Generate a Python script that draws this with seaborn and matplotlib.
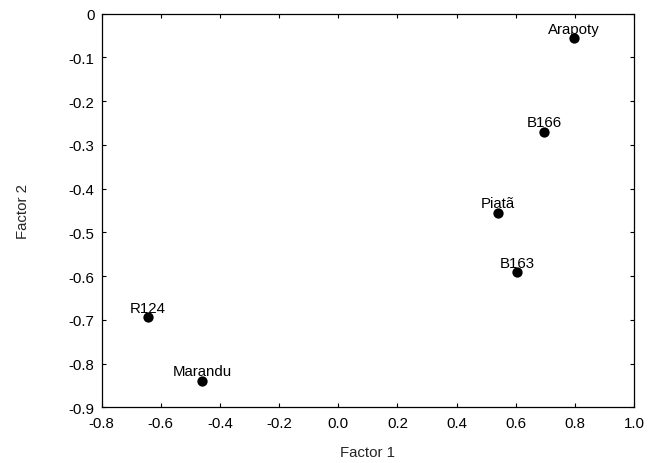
import matplotlib
matplotlib.use("Agg")
import matplotlib.pyplot as plt
import seaborn as sns
import pandas as pd

names = ["Arapoty", "B166", "Piatã", "B163", "R124", "Marandu"]
factor1 = [0.796, 0.696, 0.540, 0.603, -0.644, -0.460]
factor2 = [-0.056, -0.270, -0.455, -0.591, -0.694, -0.839]
xticks = [-0.8, -0.6, -0.4, -0.2, 0.0, 0.2, 0.4, 0.6, 0.8, 1.0]
yticks = [0, -0.1, -0.2, -0.3, -0.4, -0.5, -0.6, -0.7, -0.8, -0.9]
ytick_labels = ["0", "-0.1", "-0.2", "-0.3", "-0.4", "-0.5", "-0.6", "-0.7", "-0.8", "-0.9"]

df = pd.DataFrame({"name": names, "Factor 1": factor1, "Factor 2": factor2})

FS = 10.8
sns.set_theme(style="ticks")
plt.rcParams["font.family"] = ["Liberation Sans", "DejaVu Sans"]
plt.rcParams["font.size"] = FS

fig = plt.figure(figsize=(6.6, 4.64), dpi=100)
ax = fig.add_axes([0.1538, 0.120, 0.961 - 0.1538, 0.9683 - 0.120])

sns.scatterplot(data=df, x="Factor 1", y="Factor 2", ax=ax, color="black",
                s=55, edgecolor="black", linewidth=0, zorder=3)

for n, x, y in zip(names, factor1, factor2):
    ax.annotate(n, (x, y), xytext=(0, 4), textcoords="offset points",
                ha="center", va="baseline", fontsize=FS, color="black", zorder=4)

ax.set_xlim(-0.8, 1.0)
ax.set_ylim(-0.9, 0)
ax.set_xticks(xticks)
ax.set_xticklabels([f"{t:.1f}" for t in xticks])
ax.set_yticks(yticks)
ax.set_yticklabels(ytick_labels)
ax.tick_params(direction="in", top=True, right=True, length=3, width=0.8,
               labelsize=FS, colors="black", pad=5)
ax.tick_params(axis="x", pad=6)
for sp in ax.spines.values():
    sp.set_visible(True)
    sp.set_color("black")
    sp.set_linewidth(0.9)

ax.set_xlabel("Factor 1", fontsize=FS, labelpad=11)
ax.set_ylabel("Factor 2", fontsize=FS, labelpad=28)

fig.savefig("out.png", dpi=100)
